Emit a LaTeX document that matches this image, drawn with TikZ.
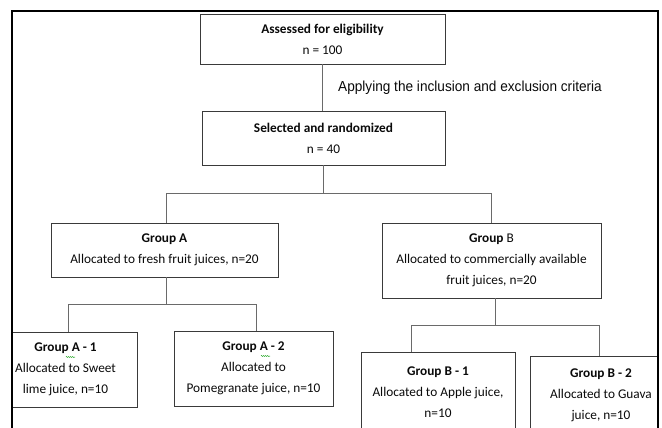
\documentclass[tikz,border=0pt]{standalone}
\usepackage{fontspec}
\setmainfont{Carlito}
\newfontfamily\narrowfont[FakeStretch=0.94]{Liberation Sans}
\usetikzlibrary{decorations.pathmorphing}
\definecolor{boxline}{HTML}{3A3A3A}
\definecolor{connline}{HTML}{6A6A6A}
\definecolor{txt}{HTML}{0A0A0A}
\begin{document}
\begin{tikzpicture}[x=1pt,y=-1pt,
  box/.style={draw=boxline, line width=0.9pt, fill=white, inner sep=0pt, align=center, text=txt,
              font=\fontsize{13.3}{21}\selectfont},
  conn/.style={draw=connline, line width=0.9pt},
  frameline/.style={draw=black, line width=2.4pt},
  squiggle/.style={draw=green!60!black, line width=0.5pt, decorate,
                   decoration={snake, amplitude=0.5pt, segment length=2pt}}]
\useasboundingbox (0,0) rectangle (662,428);
\clip (0,0) rectangle (662,428);
\begin{scope}
\clip (12,11) rectangle (658,440);
% boxes
\node[box, minimum width=245pt, minimum height=50pt] (assess) at (322.5,39)
  {\textbf{Assessed for eligibility}\\ n = 100};
\node[box, minimum width=243pt, minimum height=54pt] (sel) at (323.5,138)
  {\textbf{Selected and randomized}\\ n = 40};
\node[box, minimum width=227pt, minimum height=54pt] (ga) at (164.5,250)
  {\textbf{Group A}\\ Allocated to fresh fruit juices, n=20};
\node[box, minimum width=219pt, minimum height=75pt] (gb) at (491.5,260.5)
  {\textbf{Group} B\\ Allocated to commercially available\\ fruit juices, n=20};
\node[box, minimum width=143pt, minimum height=75pt] (a1) at (65.5,369.5)
  {\textbf{Group A - 1}\\ Allocated to Sweet\\ lime juice, n=10};
\node[box, minimum width=159pt, minimum height=75pt] (a2) at (253.5,368.5)
  {\textbf{Group A - 2}\\ Allocated to\\ Pomegranate juice, n=10};
\node[box, minimum width=154pt, minimum height=80pt] (b1) at (438,392)
  {\textbf{Group B - 1}\\ Allocated to Apple juice,\\ n=10};
\node[box, minimum width=142pt, minimum height=78pt] (b2) at (601,395)
  {\textbf{Group B - 2}\\ Allocated to Guava\\ juice, n=10};
% criteria label
\node[anchor=base west, inner sep=0pt, text=txt,
      font=\narrowfont\fontsize{14.5}{17}\selectfont] (crit) at (338,91.7)
  {Applying the inclusion and exclusion criteria};
% connectors
\draw[conn] (assess.south) -- (assess.south |- sel.north);
\draw[conn] (sel.south) -- ++(0,28) coordinate (jsel);
\draw[conn] ([xshift=1.5pt]ga.north) |- (jsel) -| (gb.north);
\draw[conn] ([xshift=2pt]ga.south) -- ++(0,27) coordinate (jga);
\draw[conn] ([xshift=2.5pt]a1.north) |- (jga) -| ([xshift=2.5pt]a2.north);
\draw[conn] ([xshift=4pt]gb.south) -- ++(0,26.5) coordinate (jgb);
\draw[conn] ([xshift=-27pt]b1.north) |- (jgb) -| ([xshift=-2pt]b2.north);
% spell-check marks
\draw[squiggle] (66,357) -- (75,357);
\draw[squiggle] (261,356) -- (270,356);
\end{scope}
% outer frame
\draw[frameline] (12,440) -- (12,11.2) -- (658,11.2) -- (658,440);
\end{tikzpicture}
\end{document}
